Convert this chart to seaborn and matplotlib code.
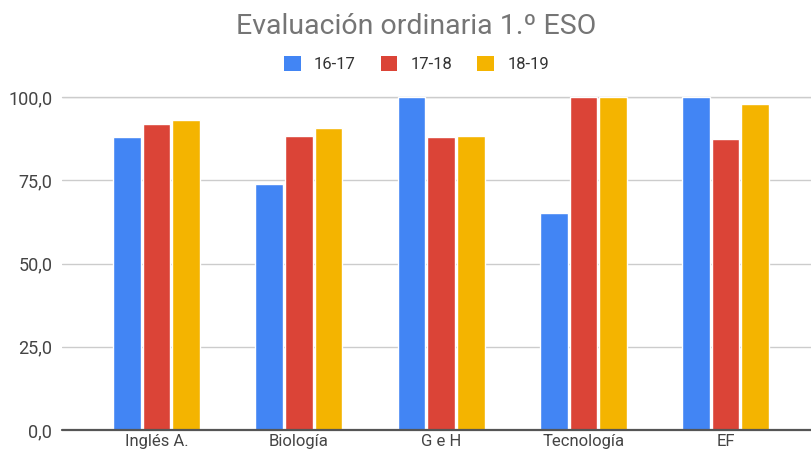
import matplotlib
matplotlib.use("Agg")
import matplotlib.pyplot as plt
import seaborn as sns
import pandas as pd
from matplotlib.ticker import FuncFormatter
from matplotlib.patches import Patch

categories = ["Inglés A.", "Biología", "G e H", "Tecnología", "EF"]
series_names = ["16-17", "17-18", "18-19"]
v_16_17 = [87.9, 74.0, 100.0, 65.2, 100.0]
v_17_18 = [91.9, 88.2, 87.9, 100.0, 87.5]
v_18_19 = [93.0, 90.6, 88.3, 100.0, 97.8]
y_ticks = [0, 25, 50, 75, 100]
colors = ["#4285F4", "#DB4437", "#F4B400"]

rows = []
for name, vals in zip(series_names, [v_16_17, v_17_18, v_18_19]):
    for c, v in zip(categories, vals):
        rows.append({"cat": c, "val": v, "year": name})
df = pd.DataFrame(rows)

sns.set_style("white")
plt.rcParams["font.family"] = ["Roboto", "DejaVu Sans"]

fig = plt.figure(figsize=(8.11, 4.53), dpi=100)
ax = fig.add_axes([62/811, 23/453, 1 - 62/811, (430-97)/453])

sns.barplot(data=df, x="cat", y="val", hue="year", palette=colors,
            width=0.625, gap=0.07, ax=ax, legend=False, saturation=1,
            order=categories, hue_order=series_names)
for p in ax.patches:
    p.set_clip_on(False)

ax.set_ylim(0, 100)
ax.set_xlim(-0.665, 4.6)
ax.set_yticks(y_ticks)
ax.yaxis.set_major_formatter(FuncFormatter(lambda v, p: f"{v:.1f}".replace(".", ",")))
ax.grid(axis="y", color="#cccccc", linewidth=1)
ax.set_axisbelow(True)
for s in ax.spines.values():
    s.set_visible(False)
ax.axhline(0, color="#555555", linewidth=1.6, zorder=5, clip_on=False)
ax.axhline(100, color="#cccccc", linewidth=1, zorder=0, clip_on=False)
ax.tick_params(axis="both", length=0, labelsize=13, labelcolor="#444444")
ax.tick_params(axis="y", pad=7)
ax.tick_params(axis="x", labelsize=12, pad=3)
ax.set_xlabel("")
ax.set_ylabel("")

fig.text(0.513, 1 - 27/453, "Evaluación ordinaria 1.º ESO", ha="center", va="center",
         fontsize=20.5, color="#757575")

handles = [Patch(facecolor=c, edgecolor="none") for c in colors]
fig.legend(handles, series_names, loc="center", bbox_to_anchor=(0.5136, 1 - 64/453),
           ncol=3, frameon=False, fontsize=12, handlelength=1.0, handleheight=1.0,
           columnspacing=1.5, handletextpad=0.8, labelcolor="#333333")

fig.savefig("out.png", dpi=100)
